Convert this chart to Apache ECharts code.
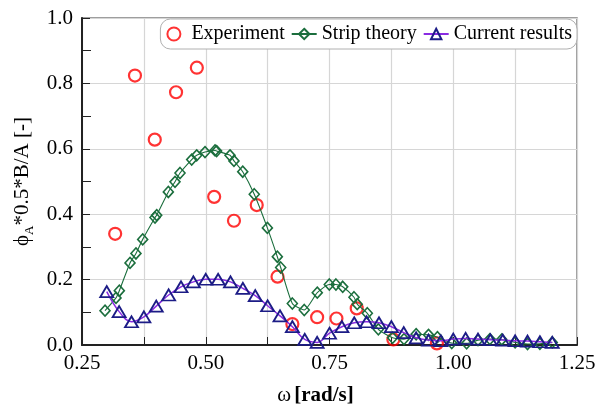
<!DOCTYPE html>
<html>
<head>
<meta charset="utf-8">
<script src="https://cdn.jsdelivr.net/npm/echarts@6/dist/echarts.min.js"></script>
<style>
  html, body { margin: 0; padding: 0; background: #ffffff; }
  #chart { width: 608px; height: 411px; }
</style>
</head>
<body>
<div id="chart"></div>
<script>
// ---- data ----
const seriesNames = ['Experiment', 'Strip theory', 'Current results'];

const experimentX = [0.317, 0.357, 0.397, 0.440, 0.482, 0.517, 0.557, 0.603, 0.645, 0.675, 0.725, 0.764, 0.805, 0.879, 0.967];
const experimentY = [0.340, 0.824, 0.628, 0.773, 0.848, 0.453, 0.380, 0.428, 0.209, 0.064, 0.085, 0.081, 0.112, 0.017, 0.005];

const stripX = [0.2965, 0.3187, 0.3254, 0.347, 0.359, 0.3726, 0.3975, 0.4009, 0.4244, 0.4379, 0.448, 0.4716, 0.4817, 0.4985, 0.5187, 0.522, 0.549, 0.557, 0.5747, 0.598, 0.6245, 0.6446, 0.6514, 0.6749, 0.699, 0.7253, 0.7496, 0.763, 0.7767, 0.7995, 0.806, 0.8264, 0.8487, 0.8775, 0.9005, 0.925, 0.95, 0.968, 0.997, 1.027, 1.05, 1.074, 1.098, 1.125, 1.15, 1.175, 1.2];
const stripY = [0.105, 0.144, 0.166, 0.251, 0.280, 0.323, 0.390, 0.397, 0.468, 0.499, 0.526, 0.567, 0.580, 0.590, 0.595, 0.593, 0.580, 0.563, 0.530, 0.461, 0.358, 0.270, 0.237, 0.127, 0.107, 0.160, 0.185, 0.185, 0.178, 0.146, 0.125, 0.097, 0.048, 0.022, 0.018, 0.033, 0.031, 0.024, 0.006, 0.005, 0.015, 0.018, 0.017, 0.008, 0.003, 0.004, 0.008];

const currentX = [0.300, 0.325, 0.350, 0.375, 0.400, 0.425, 0.450, 0.475, 0.500, 0.525, 0.550, 0.575, 0.600, 0.625, 0.650, 0.675, 0.700, 0.725, 0.750, 0.775, 0.800, 0.825, 0.850, 0.875, 0.900, 0.925, 0.950, 0.975, 1.000, 1.025, 1.050, 1.075, 1.100, 1.125, 1.150, 1.175, 1.200];
const currentY = [0.163, 0.102, 0.071, 0.086, 0.119, 0.153, 0.178, 0.193, 0.201, 0.201, 0.193, 0.173, 0.151, 0.120, 0.089, 0.056, 0.017, 0.008, 0.036, 0.056, 0.068, 0.071, 0.068, 0.056, 0.038, 0.022, 0.015, 0.013, 0.018, 0.020, 0.018, 0.016, 0.015, 0.013, 0.012, 0.010, 0.008];

const xTicks = [0.25, 0.50, 0.75, 1.00, 1.25];
const yTicks = [0.0, 0.2, 0.4, 0.6, 0.8, 1.0];

// ---- chart ----
const pair = (xs, ys) => xs.map((x, i) => [x, ys[i]]);
const FONT = "'Liberation Serif', 'Times New Roman', serif";
const GREEN = '#1b6e3d';
const NAVY = '#1c1c86';
const PURPLE = '#8a2be2';

const chart = echarts.init(document.getElementById('chart'), null, { renderer: 'canvas' });

const option = {
  backgroundColor: '#ffffff',
  animation: false,
  grid: {
    left: 82, right: 31, top: 18, bottom: 66,
    show: true, borderColor: '#7f7f7f', borderWidth: 1.5
  },
  legend: {
    right: 31, top: 19,
    orient: 'horizontal',
    backgroundColor: '#ffffff',
    borderColor: '#b0b0b0', borderWidth: 1, borderRadius: 10,
    padding: [5, 5, 5, 6],
    itemGap: 6, itemWidth: 25, itemHeight: 13,
    textStyle: { fontFamily: FONT, fontSize: 20, color: '#000' },
    data: seriesNames
  },
  xAxis: {
    type: 'value',
    min: 0.25, max: 1.25, interval: 0.125,
    name: '{w|ω} {b|[rad/s]}',
    nameLocation: 'middle',
    nameGap: 40,
    nameTextStyle: {
      fontFamily: FONT, color: '#000', padding: [0, 28, 0, 0],
      rich: {
        w: { fontFamily: FONT, fontSize: 21, color: '#000' },
        b: { fontFamily: FONT, fontSize: 21, fontWeight: 'bold', color: '#000' }
      }
    },
    axisLine: { show: true, onZero: false, lineStyle: { color: '#222', width: 2 } },
    axisTick: { show: true, inside: true, length: 8, lineStyle: { color: '#222', width: 1 } },
    axisLabel: {
      fontFamily: FONT, fontSize: 21, color: '#000', margin: 8,
      formatter: v => {
        const hit = xTicks.find(t => Math.abs(t - v) < 1e-6);
        return hit === undefined ? '' : hit.toFixed(2);
      }
    },
    splitLine: { show: true, lineStyle: { color: '#d6d6d6', width: 1.2 } }
  },
  yAxis: {
    type: 'value',
    min: 0, max: 1, interval: 0.2,
    name: '{p|ϕ}{s|A}{p|*0.5*B/A [-]}',
    nameLocation: 'middle',
    nameGap: 40,
    nameRotate: 90,
    nameTextStyle: {
      fontFamily: FONT, color: '#000',
      rich: {
        p: { fontFamily: FONT, fontSize: 21, color: '#000', lineHeight: 26, verticalAlign: 'middle' },
        s: { fontFamily: FONT, fontSize: 13, color: '#000', lineHeight: 12, verticalAlign: 'bottom' }
      }
    },
    axisLine: { show: true, onZero: false, lineStyle: { color: '#222', width: 2 } },
    axisTick: { show: true, inside: true, length: 8, lineStyle: { color: '#222', width: 1 } },
    minorTick: { show: true, splitNumber: 2, length: 9, lineStyle: { color: '#222', width: 1 } },
    axisLabel: {
      fontFamily: FONT, fontSize: 21, color: '#000', margin: 9,
      formatter: v => {
        const hit = yTicks.find(t => Math.abs(t - v) < 1e-6);
        return hit === undefined ? '' : hit.toFixed(1);
      }
    },
    splitLine: { show: true, lineStyle: { color: '#d6d6d6', width: 1.2 } }
  },
  series: [
    {
      name: seriesNames[0],
      type: 'scatter',
      data: pair(experimentX, experimentY),
      symbol: 'circle',
      symbolSize: 12,
      itemStyle: { color: 'rgba(255,255,255,0)', borderColor: '#ff0000', borderWidth: 2.2 },
      z: 2
    },
    {
      name: seriesNames[1],
      type: 'line',
      data: pair(stripX, stripY),
      smooth: 0.2,
      symbol: 'diamond',
      symbolSize: [10, 11],
      showAllSymbol: true,
      lineStyle: { color: GREEN, width: 1.1 },
      itemStyle: { color: 'rgba(255,255,255,0)', borderColor: GREEN, borderWidth: 1.6 },
      z: 3
    },
    {
      name: seriesNames[2],
      type: 'line',
      data: pair(currentX, currentY),
      smooth: 0.4,
      symbol: 'triangle',
      symbolSize: [13, 11],
      showAllSymbol: true,
      lineStyle: { color: PURPLE, width: 1.5 },
      itemStyle: { color: 'rgba(255,255,255,0)', borderColor: NAVY, borderWidth: 1.8 },
      z: 4
    }
  ]
};

chart.setOption(option);
</script>
</body>
</html>
